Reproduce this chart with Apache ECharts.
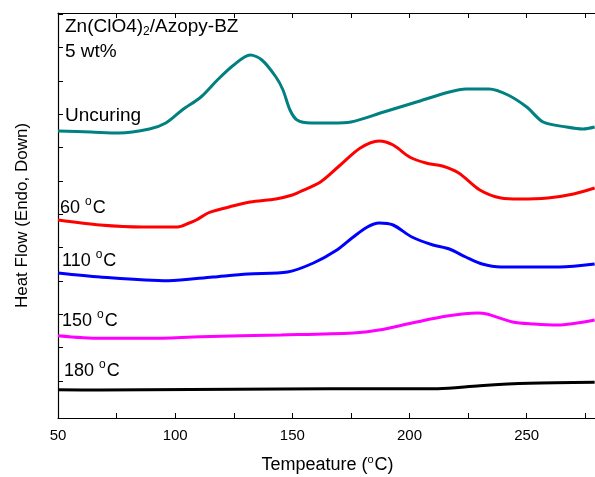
<!DOCTYPE html>
<html>
<head>
<meta charset="utf-8">
<script src="https://cdn.jsdelivr.net/npm/echarts@6/dist/echarts.min.js"></script>
<style>
  html, body { margin: 0; padding: 0; background: #fff; }
  #chart { width: 595px; height: 477px; }
</style>
</head>
<body>
<div id="chart"></div>
<script>
// DSC curves, temperature (°C) and heat flow (arbitrary units, curves offset)
const uncuringT = [50, 64, 76, 89, 96, 103, 111, 118, 125, 132, 137, 143, 146, 149, 152, 158, 167, 175, 189, 203, 217, 224, 234, 242, 250, 257, 267, 274, 279];
const uncuringV = [7.50, 7.47, 7.44, 7.56, 7.74, 8.13, 8.52, 9.03, 9.48, 9.78, 9.63, 9.12, 8.73, 8.13, 7.83, 7.74, 7.74, 7.77, 8.07, 8.37, 8.67, 8.76, 8.76, 8.58, 8.22, 7.77, 7.62, 7.56, 7.62];

const c60T = [50, 68, 86, 101, 106, 109, 114, 118, 123, 132, 143, 150, 153, 162, 170, 179, 187, 193, 200, 207, 214, 221, 230, 239, 247, 259, 270, 279];
const c60V = [4.83, 4.68, 4.62, 4.62, 4.74, 4.83, 5.04, 5.13, 5.22, 5.37, 5.46, 5.58, 5.67, 5.97, 6.45, 6.99, 7.20, 7.08, 6.72, 6.54, 6.45, 6.24, 5.73, 5.49, 5.46, 5.49, 5.61, 5.79];

const c110T = [50, 68, 97, 116, 131, 148, 159, 169, 176, 182, 187, 193, 201, 210, 217, 224, 231, 239, 251, 264, 279];
const c110V = [3.24, 3.12, 3.01, 3.12, 3.21, 3.27, 3.54, 3.93, 4.32, 4.62, 4.74, 4.68, 4.32, 4.08, 3.96, 3.72, 3.51, 3.42, 3.42, 3.42, 3.51];

const c150T = [50, 68, 89, 111, 145, 176, 187, 201, 216, 229, 233, 244, 253, 263, 279];
const c150V = [1.36, 1.28, 1.28, 1.33, 1.38, 1.44, 1.53, 1.74, 1.95, 2.04, 2.01, 1.77, 1.71, 1.68, 1.83];

const c180T = [50, 68, 145, 187, 212, 230, 251, 279];
const c180V = [-0.26, -0.27, -0.24, -0.23, -0.23, -0.14, -0.07, -0.04];

const yTicks = [0, 1, 2, 3, 4, 5, 6, 7, 8, 9, 10, 11];

const pairs = (t, v) => t.map((x, i) => [x, v[i]]);

const chart = echarts.init(document.getElementById('chart'));
const font = 'Liberation Sans, Arial, sans-serif';
const axisCommon = {
  type: 'value',
  min: 50,
  max: 280,
  interval: 25,
  axisLine: { show: true, onZero: false, lineStyle: { color: '#000', width: 1.2 } },
  axisTick: { show: true, inside: true, length: 5, lineStyle: { color: '#000' } },
  splitLine: { show: false }
};
const supRich = {
  sup: { fontSize: 11, fontFamily: font, color: '#000', padding: [0, 1, 12, 0] }
};

function label(text, x, y, size) {
  return {
    type: 'text',
    left: x,
    top: y - size / 2 - 2,
    style: {
      text: text,
      fontSize: size,
      fontFamily: font,
      fill: '#000',
      rich: {
        sup: { fontSize: 12, fontFamily: font, fill: '#000', padding: [0, 1, 12, 0] },
        sub: { fontSize: 12, fontFamily: font, fill: '#000', padding: [9, 0, 0, 0] }
      }
    }
  };
}

chart.setOption({
  animation: false,
  backgroundColor: '#fff',
  grid: { left: 58, right: -2, top: 13, bottom: 59, outerBoundsMode: 'none', containLabel: false },
  xAxis: [
    Object.assign({}, axisCommon, {
      position: 'bottom',
      name: 'Tempeature ({sup|o}C)',
      nameLocation: 'middle',
      nameGap: 36,
      nameTextStyle: { fontSize: 18, fontFamily: font, color: '#000', rich: supRich },
      axisLabel: {
        show: true,
        fontSize: 15,
        fontFamily: font,
        color: '#000',
        margin: 10,
        formatter: v => (v % 50 === 0 ? String(v) : '')
      }
    }),
    Object.assign({}, axisCommon, {
      position: 'top',
      axisLabel: { show: false }
    })
  ],
  yAxis: [
    {
      type: 'value',
      min: -1.11,
      max: 11.04,
      position: 'left',
      name: 'Heat Flow (Endo, Down)',
      nameLocation: 'middle',
      nameGap: 27,
      nameTextStyle: { fontSize: 17, fontFamily: font, color: '#000' },
      axisLine: { show: true, onZero: false, lineStyle: { color: '#000', width: 1.2 } },
      axisTick: { show: true, inside: true, length: 5, customValues: yTicks, lineStyle: { color: '#000' } },
      axisLabel: { show: false },
      splitLine: { show: false }
    },
    {
      type: 'value',
      min: -1.11,
      max: 11.04,
      position: 'right',
      axisLine: { show: true, onZero: false, lineStyle: { color: '#000', width: 1.2 } },
      axisTick: { show: false },
      axisLabel: { show: false },
      splitLine: { show: false }
    }
  ],
  series: [
    { name: 'Uncuring', data: pairs(uncuringT, uncuringV), color: '#008080' },
    { name: '60 °C', data: pairs(c60T, c60V), color: '#ff0000' },
    { name: '110 °C', data: pairs(c110T, c110V), color: '#0000ff' },
    { name: '150 °C', data: pairs(c150T, c150V), color: '#ff00ff' },
    { name: '180 °C', data: pairs(c180T, c180V), color: '#000000' }
  ].map(s => ({
    type: 'line',
    name: s.name,
    data: s.data,
    smooth: 0.3,
    showSymbol: false,
    lineStyle: { color: s.color, width: 3 },
    itemStyle: { color: s.color }
  })),
  graphic: [
    label('Zn(ClO4){sub|2}/Azopy-BZ', 65, 29, 19),
    label('5 wt%', 65, 54, 19),
    label('Uncuring', 65, 118, 19),
    label('60 {sup|o}C', 60, 207, 18),
    label('110 {sup|o}C', 62, 260, 18),
    label('150 {sup|o}C', 62, 320, 18),
    label('180 {sup|o}C', 64, 370, 18)
  ]
});
</script>
</body>
</html>
